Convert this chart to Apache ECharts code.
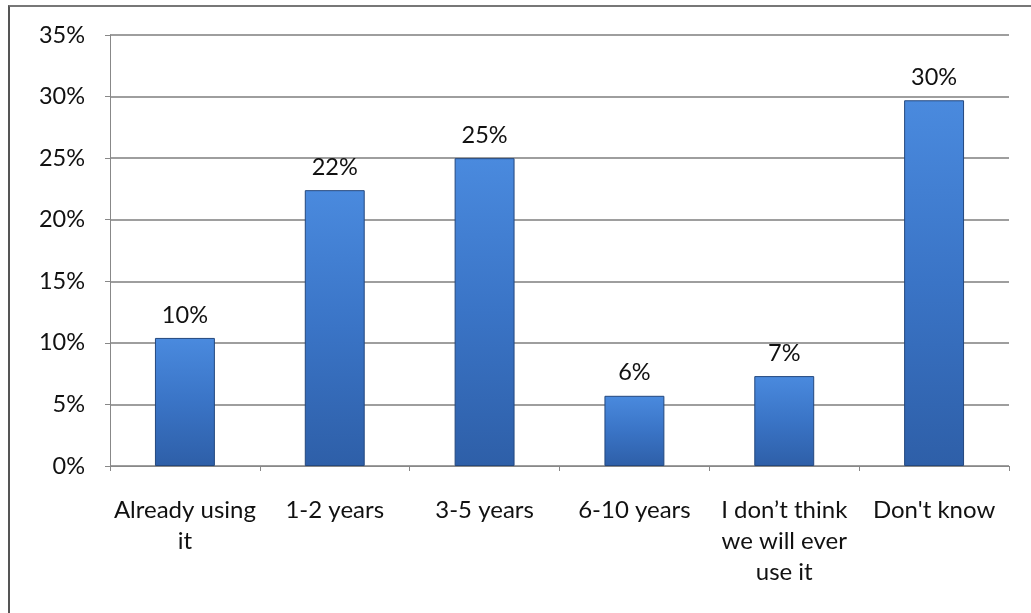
<!DOCTYPE html>
<html>
<head>
<meta charset="utf-8">
<script src="https://cdn.jsdelivr.net/npm/echarts@6/dist/echarts.min.js"></script>
<style>
html,body{margin:0;padding:0;background:#fff;}
#frame{position:absolute;left:8px;top:5px;width:1023px;height:608px;border-left:2px solid #555;border-top:2px solid #777;box-sizing:border-box;}
#chart{position:absolute;left:0;top:0;width:1031px;height:613px;}
</style>
</head>
<body>
<div id="frame"></div>
<div id="chart"></div>
<script>
const categories = ['Already using\nit', '1-2 years', '3-5 years', '6-10 years', 'I don\u2019t think\nwe will ever\nuse it', "Don't know"];
const values = [10.4, 22.4, 25.0, 5.7, 7.3, 29.7];
const yTicks = [0, 5, 10, 15, 20, 25, 30, 35];

const chart = echarts.init(document.getElementById('chart'), null, {renderer: 'canvas'});
const font = 'Lato, "Open Sans", sans-serif';
chart.setOption({
  animation: false,
  grid: {left: 110, right: 22, top: 35, bottom: 147, containLabel: false},
  xAxis: {
    type: 'category',
    data: categories,
    axisLine: {show: true, lineStyle: {color: '#888', width: 1}},
    axisTick: {show: true, length: 5, lineStyle: {color: '#888'}},
    axisLabel: {color: '#111', fontFamily: font, fontSize: 24, lineHeight: 31, margin: 29, interval: 0}
  },
  yAxis: {
    type: 'value',
    min: yTicks[0], max: yTicks[yTicks.length - 1], interval: 5,
    axisLine: {show: true, lineStyle: {color: '#888', width: 1}},
    axisTick: {show: true, length: 5, lineStyle: {color: '#888'}},
    axisLabel: {color: '#111', fontFamily: font, fontSize: 23.5, margin: 25, formatter: v => v + '%'},
    splitLine: {show: true, lineStyle: {color: '#7e7e7e', width: 1.5}}
  },
  series: [{
    type: 'bar',
    data: values,
    barWidth: '40%',
    itemStyle: {
      color: new echarts.graphic.LinearGradient(0, 0, 0, 1, [
        {offset: 0, color: '#4a8ade'},
        {offset: 0.5, color: '#3a74c6'},
        {offset: 1, color: '#2e5fa8'}
      ]),
      borderColor: '#24487e',
      borderWidth: 1
    },
    label: {
      show: true, position: 'top', distance: 11,
      color: '#111', fontFamily: font, fontSize: 23.5,
      formatter: p => Math.round(p.value) + '%'
    }
  }]
});
</script>
</body>
</html>
